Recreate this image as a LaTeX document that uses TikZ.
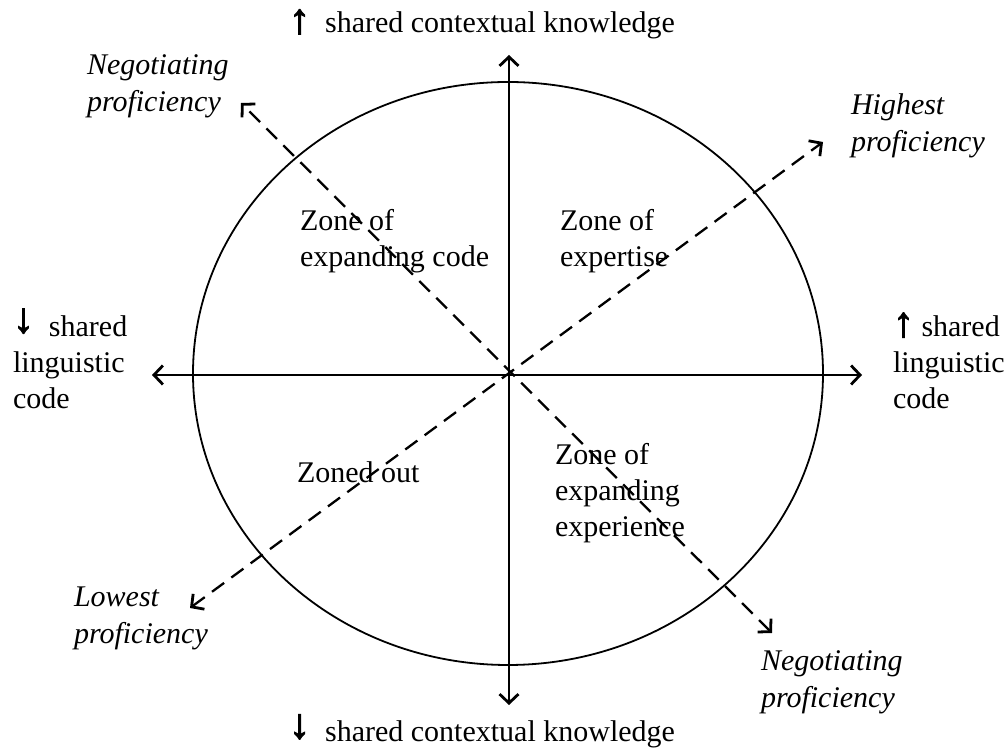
\documentclass[tikz,border=0pt]{standalone}
\usepackage{fontspec}
\setmainfont{Liberation Serif}
\newfontfamily\arrowfont[Scale=1.4,FakeBold=2.5]{Liberation Serif}
\usetikzlibrary{arrows.meta}

\newcommand{\upar}{\smash{\arrowfont ↑}}
\newcommand{\downar}{\smash{\raisebox{4pt}{\arrowfont ↓}}}

\tikzset{
  tip/.tip={Straight Barb[length=9pt,width=19pt,line width=2.8pt]},
  axis/.style={draw=drawColor,line width=2.3pt,tip-tip},
  diag/.style={axis,dash pattern=on 15pt off 9pt},
  lbl/.style={text=drawColor,anchor=west,align=left,inner sep=0pt,outer sep=0pt,
    font=\fontsize{30}{36}\selectfont},
  lblit/.style={lbl,font=\fontsize{30}{37}\selectfont\itshape}
}

\begin{document}
\begin{tikzpicture}[x=1pt,y=1pt]
\definecolor{fillColor}{RGB}{255,255,255}
\definecolor{drawColor}{RGB}{0,0,0}
\path[use as bounding box,fill=fillColor] (0,0) rectangle (1007,749);

\coordinate (o)  at (509,375);
\coordinate (top) at (509,694);
\coordinate (bot) at (509, 44);
\coordinate (lft) at (152,374);
\coordinate (rgt) at (862,374);
\coordinate (ne) at (823,607);
\coordinate (sw) at (190,141);
\coordinate (nw) at (241,646);
\coordinate (se) at (772,116);

\path[draw=drawColor,line width=1.8pt] (508,375.5) ellipse [x radius=315,y radius=291.5];

\draw[axis] (bot) -- (top);
\draw[axis] (lft) -- (rgt);
\draw[diag] (sw) -- (ne);
\draw[diag] (se) -- (nw);

\node[lbl,anchor=base east] (ktop) at (675,716) {\upar\hspace{0.5em}shared contextual knowledge};
\node[lbl,anchor=base east] (kbot) at (675,7) {\downar\hspace{0.5em}shared contextual knowledge};
\node[lbl] (cdown) at (13,387) {\downar\hspace{0.5em}shared\\linguistic\\code};
\node[lbl] (cup) at (893,387) {\upar\hspace{0.25em}shared\\linguistic\\code};

\node[lblit] (negnw) at (87,662.5) {Negotiating\\proficiency};
\node[lblit] (high) at (851,623) {Highest\\proficiency};
\node[lblit] (low) at (74,130.5) {Lowest\\proficiency};
\node[lblit] (negse) at (761,66.5) {Negotiating\\proficiency};

\node[lbl] (zcode) at (300,507.5) {Zone of\\expanding code};
\node[lbl] (zexp) at (560,507.5) {Zone of\\expertise};
\node[lbl] (zout) at (297,277) {Zoned out};
\node[lbl] (zexpr) at (555,256) {Zone of\\expanding\\experience};
\end{tikzpicture}
\end{document}
